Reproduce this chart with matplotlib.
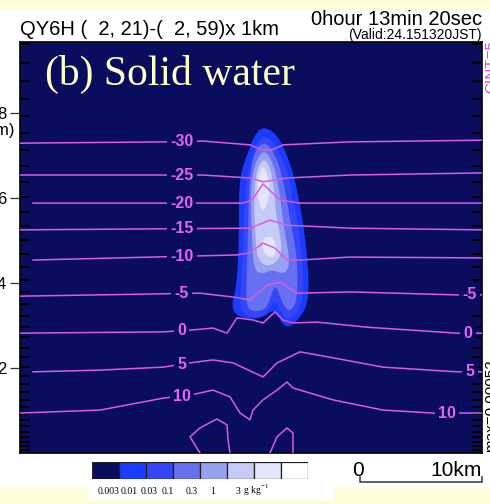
import numpy as np
import matplotlib
matplotlib.use('Agg')
import matplotlib.pyplot as plt
from matplotlib.patches import Rectangle

# ---------------- data (km) ----------------
x_min, x_max = 21.0, 59.0
z_min, z_max = 0.0, 9.67
ytick_values = [2, 4, 6, 8]
model_levels_km = [0.06, 0.16, 0.27, 0.38, 0.5, 0.63, 0.77, 0.92, 1.08, 1.25, 1.43,
                   1.62, 1.82, 2.03, 2.25, 2.48, 2.72, 2.97, 3.23, 3.5, 3.78, 4.07,
                   4.37, 4.68, 5.0, 5.33, 5.67, 6.02, 6.38, 6.75, 7.13, 7.52, 7.92,
                   8.33, 8.75, 9.18, 9.62]

# isotherms (deg C)
iso_levels = [-30, -25, -20, -15, -10, -5, 0, 5, 10]
iso_x = [
    [21.0, 32.93, 36.05, 39.92, 40.9, 41.73, 42.63, 48.14, 59.0],
    [21.0, 36.05, 39.92, 40.99, 42.96, 48.14, 59.0],
    [22.07, 39.34, 40.08, 40.99, 42.39, 44.03, 48.14, 59.0],
    [21.0, 39.92, 41.56, 42.96, 48.14, 59.0],
    [22.07, 38.85, 39.92, 40.99, 41.97, 42.96, 44.03, 48.14, 59.0],
    [21.0, 35.8, 38.52, 39.92, 41.32, 42.39, 43.78, 48.14, 56.94, 59.0],
    [21.0, 32.76, 34.98, 36.87, 38.03, 38.85, 40.16, 40.99, 41.97, 42.63, 43.45,
     45.43, 49.54, 56.94, 59.0],
    [22.07, 27.58, 32.76, 34.98, 36.87, 38.52, 40.99, 42.14, 44.03, 46.74, 50.86,
     56.94, 59.0],
    [21.0, 27.58, 32.76, 34.98, 36.87, 38.27, 39.10, 39.92, 40.16, 40.99, 42.14,
     42.96, 43.45, 46.74, 50.86, 54.97, 59.0],
]
iso_z = [
    [7.29, 7.32, 7.34, 7.25, 7.13, 7.13, 7.25, 7.32, 7.36],
    [6.54, 6.54, 6.47, 6.38, 6.47, 6.54, 6.59],
    [5.88, 5.88, 5.95, 6.33, 5.95, 5.88, 5.88, 5.88],
    [5.25, 5.29, 5.48, 5.36, 5.29, 5.25],
    [4.54, 4.66, 4.71, 4.94, 4.82, 4.54, 4.54, 4.61, 4.59],
    [3.69, 3.76, 3.67, 3.60, 3.95, 4.02, 3.76, 3.79, 3.72, 3.72],
    [2.82, 2.85, 2.89, 2.94, 2.82, 3.18, 3.13, 3.06, 3.32, 3.13, 3.06, 3.08, 2.96,
     2.82, 2.82],
    [1.91, 1.95, 2.02, 2.12, 2.19, 2.12, 1.79, 2.12, 2.38, 2.24, 2.02, 1.91, 1.91],
    [0.94, 1.01, 1.29, 1.36, 1.48, 1.32, 0.94, 0.78, 1.01, 1.25, 1.48, 1.67, 1.53,
     1.25, 1.01, 0.94, 0.94],
]
label_left_x = 34.3
label_right_levels = [-5, 0, 5, 10]
label_right_x = [58.0, 57.85, 58.0, 56.12]

# 15 degC closed pieces near the ground
warm_x = [[35.8, 34.98, 35.8, 37.2, 38.03, 38.11, 38.27],
          [41.56, 42.14, 42.96, 43.45, 43.45]]
warm_z = [[0.0, 0.38, 0.59, 0.80, 0.66, 0.31, 0.0],
          [0.0, 0.38, 0.59, 0.47, 0.0]]

# solid water (g/kg) region outlines, one per threshold
sw_levels = [0.003, 0.01, 0.03, 0.1, 0.3, 1, 3]
sw_colors = ['#0A0C5E', '#1A3CFF', '#3546F6', '#6670F0', '#98A0F2', '#C6CAF7',
             '#E3E5FA', '#FFFFFF']
sw_x = [
    [40.99, 41.48, 41.97, 42.47, 43.12, 43.62, 44.03, 44.36, 44.61, 44.77, 44.61,
     44.03, 43.21, 42.63, 42.22, 41.73, 41.15, 40.33, 39.34, 38.60, 38.44, 38.77,
     38.93, 39.01, 39.01, 39.26, 39.84, 40.16, 40.58],
    [41.07, 41.48, 41.97, 42.55, 43.12, 43.54, 43.95, 44.19, 44.36, 44.11, 43.62,
     42.88, 42.39, 41.97, 41.40, 40.90, 39.92, 39.18, 39.10, 39.26, 39.42, 39.51,
     39.67, 40.08, 40.33, 40.66],
    [40.99, 41.40, 41.89, 42.39, 42.88, 43.29, 43.70, 43.86, 43.70, 43.04, 42.47,
     42.06, 41.73, 41.40, 40.90, 39.92, 39.59, 39.67, 39.75, 39.84, 40.00, 40.16,
     40.58],
    [40.99, 41.65, 42.14, 42.47, 42.80, 43.12, 43.12, 42.63, 41.73, 40.90, 40.25,
     40.08, 40.00, 40.00, 40.33],
    [40.99, 41.56, 41.89, 42.06, 42.39, 42.55, 41.97, 41.15, 40.49, 40.33, 40.25,
     40.41],
    [40.99, 41.40, 41.56, 41.32, 40.99, 40.66, 40.49, 40.58],
    [40.99, 41.73, 42.14, 41.89, 41.23, 40.90],
]
sw_z = [
    [7.65, 7.62, 7.51, 7.32, 6.89, 6.42, 5.84, 5.25, 4.66, 3.95, 3.48, 3.18, 2.96,
     3.01, 3.25, 3.36, 3.22, 3.15, 3.18, 3.29, 3.53, 3.88, 4.42, 5.25, 6.19, 6.71,
     7.13, 7.39, 7.58],
    [7.44, 7.39, 7.25, 6.94, 6.47, 5.84, 5.25, 4.54, 3.95, 3.48, 3.22, 3.13, 3.36,
     3.60, 3.36, 3.20, 3.20, 3.34, 3.72, 4.31, 5.25, 6.07, 6.54, 6.94, 7.18, 7.36],
    [7.29, 7.25, 7.06, 6.71, 6.07, 5.36, 4.78, 4.07, 3.48, 3.32, 3.60, 3.95, 3.79,
     3.48, 3.34, 3.34, 3.55, 4.31, 5.25, 6.19, 6.66, 6.94, 7.20],
    [7.13, 6.94, 6.47, 5.84, 5.13, 4.66, 4.35, 4.21, 4.31, 4.21, 4.31, 5.01, 5.72,
     6.31, 6.82],
    [6.94, 6.75, 6.24, 5.60, 5.13, 4.71, 4.45, 4.40, 4.59, 5.25, 5.95, 6.61],
    [6.78, 6.54, 6.14, 5.84, 5.67, 5.86, 6.14, 6.52],
    [5.06, 5.11, 4.87, 4.59, 4.64, 4.85],
]
sw_region_level = [0, 1, 2, 3, 4, 5, 5]   # index into sw_levels for each outline
cbar_labels = ['0.003', '0.01', '0.03', '0.1', '0.3', '1', '3']

# ---------------- style ----------------
W, H = 490, 504
navy = '#0A0C5E'
mag_line = '#D65CE6'
mag_text = '#E464F0'
yellow = '#FFFCDA'
sans = ['Liberation Sans', 'DejaVu Sans']
serif = ['Liberation Serif', 'DejaVu Serif']


def fx(px):
    return px / W


def fy(py):
    return 1 - py / H


def chaikin(x, z, n=2):
    p = np.column_stack([x, z]).astype(float)
    for _ in range(n):
        q = np.roll(p, -1, axis=0)
        a = 0.75 * p + 0.25 * q
        b = 0.25 * p + 0.75 * q
        new = np.empty((2 * len(p), 2))
        new[0::2] = a
        new[1::2] = b
        p = new
    return p[:, 0], p[:, 1]


fig = plt.figure(figsize=(W / 100, H / 100), dpi=100)
fig.patch.set_facecolor('white')
fig.patches.append(Rectangle((0, fy(10)), 1, 10 / H, transform=fig.transFigure,
                             facecolor=yellow, edgecolor='none', zorder=0))
fig.patches.append(Rectangle((0, 0), 1, fy(488), transform=fig.transFigure,
                             facecolor=yellow, edgecolor='none', zorder=0))
fig.patches.append(Rectangle((fx(88), fy(500)), fx(333) - fx(88), (500 - 480) / H,
                             transform=fig.transFigure, facecolor='white',
                             edgecolor='none', zorder=0.5))

ax = fig.add_axes([fx(20), fy(453), fx(482) - fx(20), (453 - 42) / H])
ax.set_facecolor(navy)
ax.set_xlim(x_min, x_max)
ax.set_ylim(z_min, z_max)

# solid water filled regions
for xs, zs, li in zip(sw_x, sw_z, sw_region_level):
    sx, sz = chaikin(xs, zs, 2)
    ax.fill(sx, sz, color=sw_colors[li + 1], lw=0, zorder=1)

# isotherms
for lev, xs, zs in zip(iso_levels, iso_x, iso_z):
    ax.plot(xs, zs, color=mag_line, lw=1.1, zorder=3, solid_joinstyle='round')
    zl = np.interp(label_left_x, xs, zs)
    ax.text(label_left_x, zl, f'{lev:d}', color=mag_text, fontsize=11.5,
            fontweight='bold', family=sans, ha='center', va='center', zorder=4,
            bbox=dict(boxstyle='square,pad=0.2', fc=navy, ec='none'))
for lev, lx in zip(label_right_levels, label_right_x):
    i = iso_levels.index(lev)
    zl = np.interp(lx, iso_x[i], iso_z[i])
    ax.text(lx, zl, f'{lev:d}', color=mag_text, fontsize=11.5, fontweight='bold',
            family=sans, ha='center', va='center', zorder=4,
            bbox=dict(boxstyle='square,pad=0.2', fc=navy, ec='none'))
for xs, zs in zip(warm_x, warm_z):
    ax.plot(xs, zs, color=mag_line, lw=1.1, zorder=3)

# axes ticks
ax.set_xticks([])
ax.set_yticks(ytick_values)
ax.set_yticklabels([str(v) for v in ytick_values], fontsize=12, family=sans)
ax.set_yticks(model_levels_km, minor=True)
ax.tick_params(axis='y', which='major', direction='out', length=7, width=0.9,
               pad=3, left=True, right=False, color='#333333')
ax.tick_params(axis='y', which='minor', direction='in', length=7, width=1.3,
               left=True, right=True, color='black')
for s in ax.spines.values():
    s.set_color('black')
    s.set_linewidth(1.2)

# texts
fig.text(fx(20), fy(35), 'QY6H (  2, 21)-(  2, 59)x 1km', fontsize=14.5,
         family=sans, ha='left', va='baseline')
fig.text(fx(482), fy(25), '0hour 13min 20sec', fontsize=14.5, family=sans,
         ha='right', va='baseline')
fig.text(fx(482), fy(39.5), '(Valid:24.151320JST)', fontsize=10, family=sans,
         ha='right', va='baseline')
fig.text(fx(45), fy(85), '(b) Solid water', fontsize=30, family=serif,
         color='#FFFFC8', ha='left', va='baseline')
fig.text(fx(14), fy(131), '(km)', fontsize=12, family=sans, ha='right',
         va='center')
fig.text(fx(491), fy(452), 'max=0.00052', fontsize=11, family=sans,
         rotation=90, ha='center', va='bottom')
fig.text(fx(491), fy(40), 'CINT=5', fontsize=11, family=sans, color='#E040F0',
         rotation=90, ha='center', va='top')

# colorbar
cax = fig.add_axes([fx(92), fy(479), fx(308) - fx(92), 17 / H])
cax.bar(np.arange(len(sw_colors)), np.ones(len(sw_colors)), width=1.0,
        color=sw_colors, edgecolor='#222222', linewidth=0.9, align='edge')
cax.set_xlim(0, len(sw_colors))
cax.set_ylim(0, 1)
cax.axis('off')
cbar_label_px = [109, 129, 149, 168, 192, 213, 238]
for lab, px in zip(cbar_labels, cbar_label_px):
    fig.text(fx(px), fy(494), lab, fontsize=7, family=serif, ha='center',
             va='baseline')
fig.text(fx(243), fy(494), r'g kg$^{\mathregular{-1}}$', fontsize=7,
         family=serif, ha='left', va='baseline')

# scale bar
fig.text(fx(358), fy(476), '0', fontsize=15, family=sans, ha='center',
         va='baseline')
fig.text(fx(482), fy(476), '10km', fontsize=15, family=sans, ha='right',
         va='baseline')
fig.add_artist(plt.Line2D([fx(360), fx(360), fx(482), fx(482)],
                          [fy(477), fy(482), fy(482), fy(477)],
                          transform=fig.transFigure, color='#333333', lw=1.1))

fig.savefig('out.png', dpi=100)
